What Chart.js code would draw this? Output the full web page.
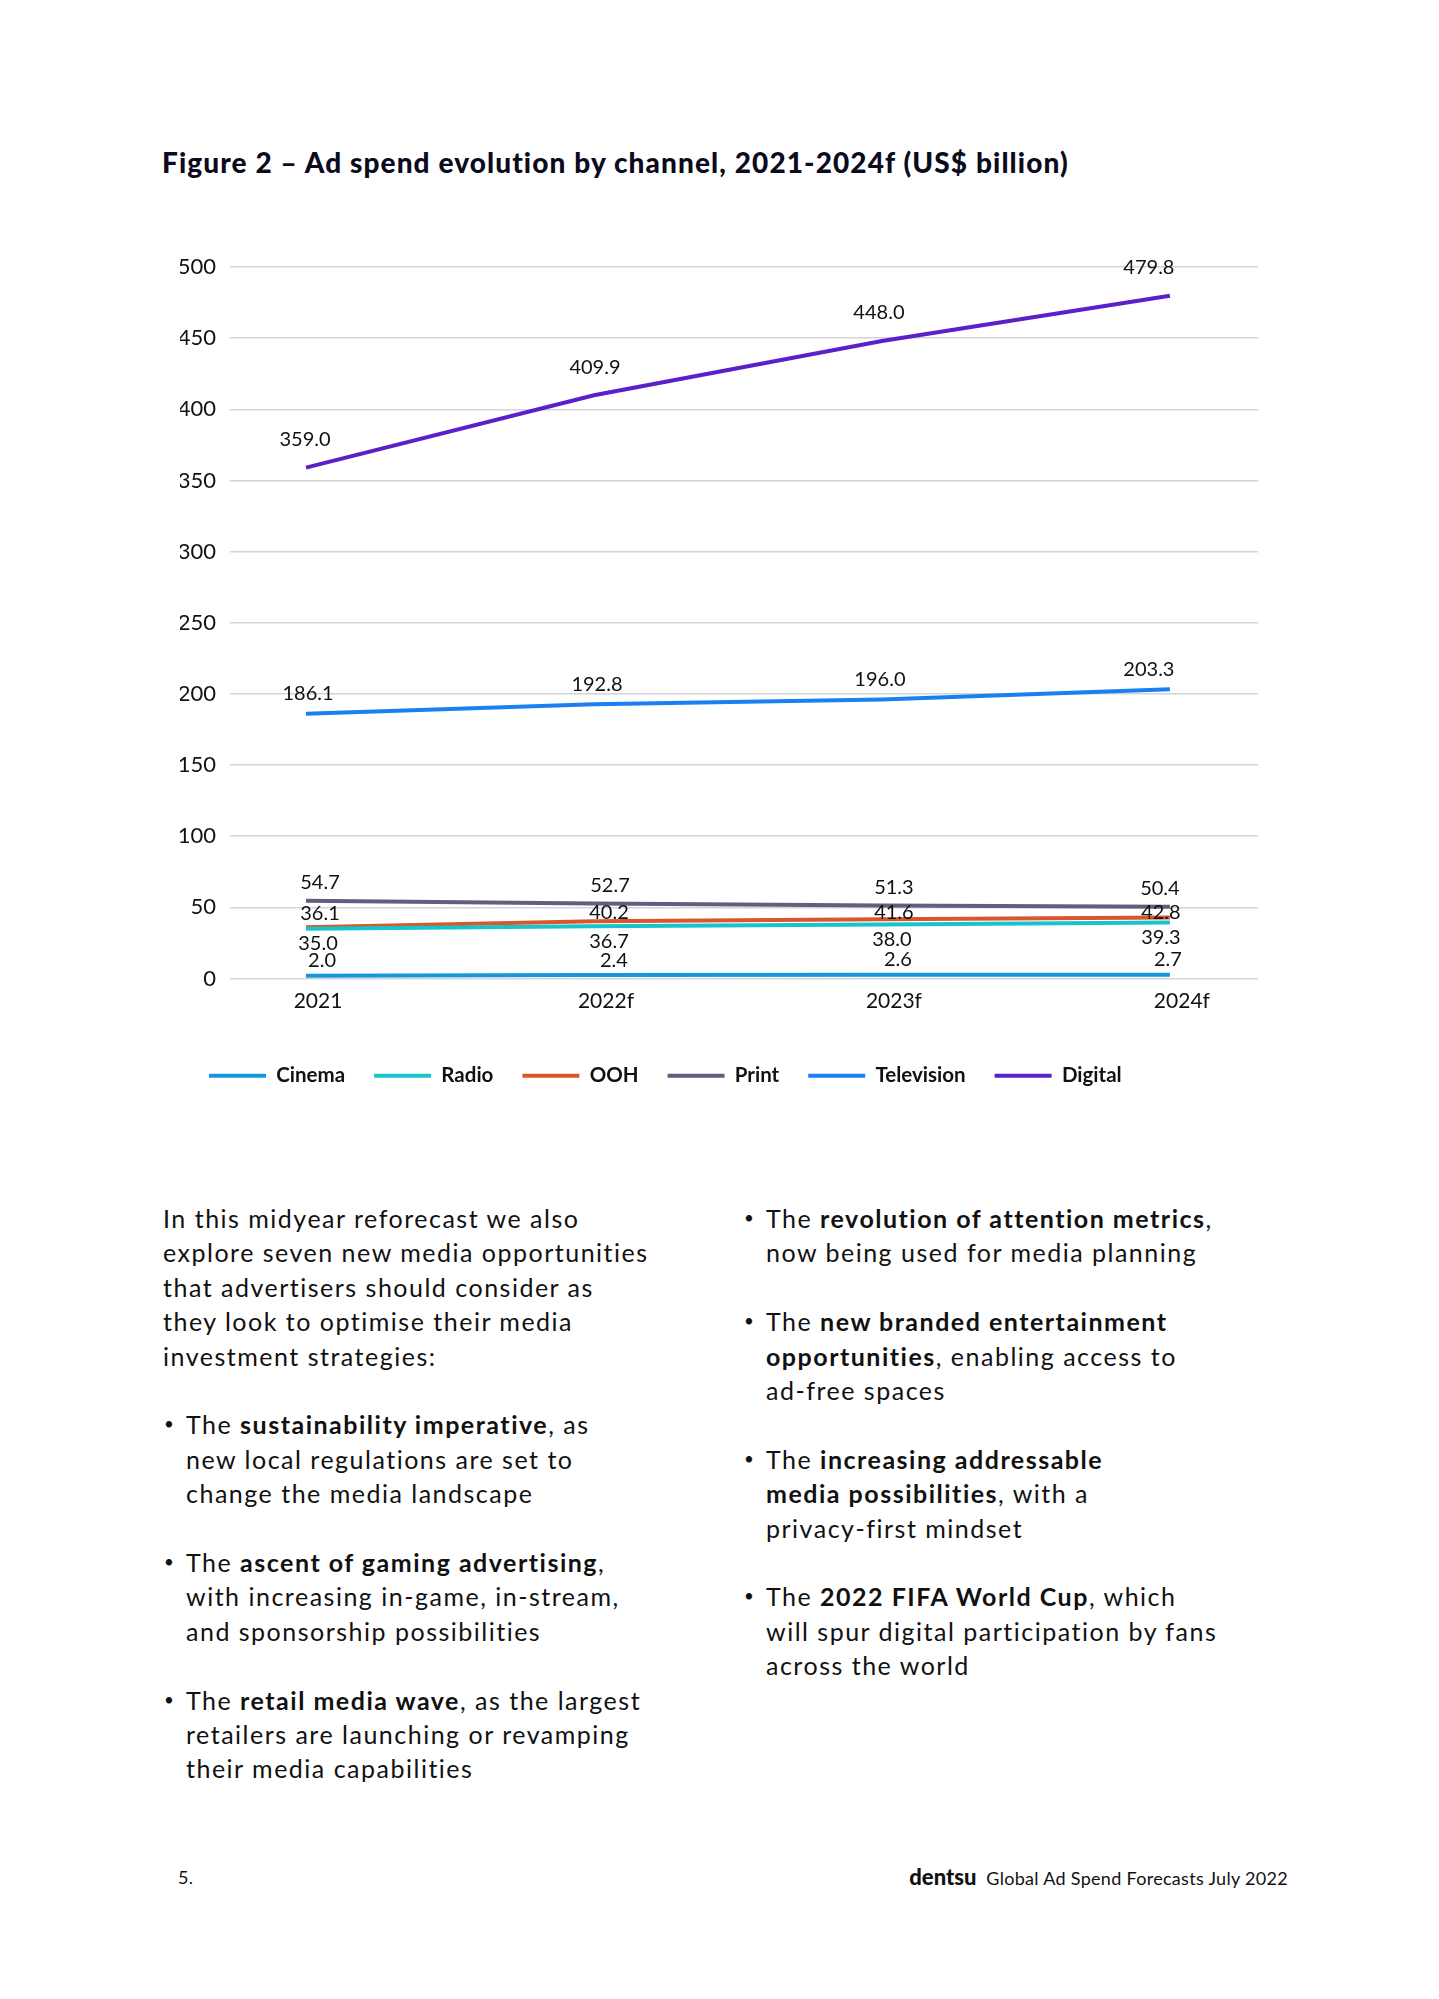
<!DOCTYPE html>
<html>
<head>
<meta charset="utf-8">
<script src="https://cdn.jsdelivr.net/npm/chart.js@4.4.1/dist/chart.umd.min.js"></script>
<style>
    body {
        margin: 0;
        background: #fff;
        width: 1439px;
        height: 1999px;
        position: relative;
        font-family: Lato, "Noto Sans", sans-serif;
        color: #111;
    }
    h1 {
        position: absolute;
        left: 162px;
        top: 146px;
        margin: 0;
        font-size: 28px;
        line-height: 32px;
        font-weight: 900;
        letter-spacing: 1.1px;
        color: #0b0b1e;
        white-space: nowrap;
    }
    #chart-box {
        position: absolute;
        left: 160px;
        top: 230px;
        width: 1120px;
        height: 880px;
    }
    .col {
        position: absolute;
        top: 1201px;
        font-size: 25px;
        line-height: 34.4px;
        letter-spacing: 1.5px;
        white-space: nowrap;
    }
    .col p { margin: 0 0 34.4px 0; }
    .col .item { position: relative; padding-left: 23px; margin-bottom: 34.4px; }
    .col .item::before { content: "•"; position: absolute; left: 1px; top: 0; font-size: 17px; }
    .footer {
        position: absolute;
        top: 1866px;
        font-size: 18px;
        line-height: 22px;
        letter-spacing: 0.3px;
    }
</style>
</head>
<body>

<h1>Figure 2 – Ad spend evolution by channel, 2021-2024f (US$ billion)</h1>

<div id="chart-box"><canvas id="chart1"></canvas></div>

<div class="col" style="left:163px">
    <p>In this midyear reforecast we also<br>explore seven new media opportunities<br>that advertisers should consider as<br>they look to optimise their media<br>investment strategies:</p>
    <div class="item">The <b>sustainability imperative</b>, as<br>new local regulations are set to<br>change the media landscape</div>
    <div class="item">The <b>ascent of gaming advertising</b>,<br>with increasing in-game, in-stream,<br>and sponsorship possibilities</div>
    <div class="item">The <b>retail media wave</b>, as the largest<br>retailers are launching or revamping<br>their media capabilities</div>
</div>

<div class="col" style="left:743px">
    <div class="item">The <b>revolution of attention metrics</b>,<br>now being used for media planning</div>
    <div class="item">The <b>new branded entertainment<br>opportunities</b>, enabling access to<br>ad-free spaces</div>
    <div class="item">The <b>increasing addressable<br>media possibilities</b>, with a<br>privacy-first mindset</div>
    <div class="item">The <b>2022 FIFA World Cup</b>, which<br>will spur digital participation by fans<br>across the world</div>
</div>

<div class="footer" style="left:178px">5.</div>
<div class="footer" style="right:151px"><b style="font-size:22px;font-weight:900;letter-spacing:0">dentsu</b>&nbsp; Global Ad Spend Forecasts July 2022</div>

<script>
// Data (US$ billion)
const categories = ['2021', '2022f', '2023f', '2024f']
const seriesNames = ['Cinema', 'Radio', 'OOH', 'Print', 'Television', 'Digital']
const cinema = [2.0, 2.4, 2.6, 2.7]
const radio = [35.0, 36.7, 38.0, 39.3]
const ooh = [36.1, 40.2, 41.6, 42.8]
const print = [54.7, 52.7, 51.3, 50.4]
const television = [186.1, 192.8, 196.0, 203.3]
const digital = [359.0, 409.9, 448.0, 479.8]
const yTicks = [0, 50, 100, 150, 200, 250, 300, 350, 400, 450, 500]

const seriesValues = [cinema, radio, ooh, print, television, digital]
const seriesColors = ['#1497db', '#17c4cc', '#d9572d', '#625f7e', '#1a7ff2', '#5b20c9']

// where each value label sits next to its point (px)
// "between": put the label halfway between this line and another one
const labelOffsets = {
    'Cinema':     { dy: -15, dx: [16, 20, 16, -2] },
    'Radio':      { dy: 15,  dx: [12, 15, 10, -9] },
    'OOH':        { dy: 0, between: 'Print', dx: [14, 15, 12, -9] },
    'Print':      { dy: -18, dx: [14, 16, 12, -10] },
    'Television': { dy: -20, dx: [2, 3, -2, -21] },
    'Digital':    { dy: -28, dx: [-1, 1, -3, -21] },
}

const valueLabels = {
    id: 'valueLabels',
    afterDatasetsDraw(chart) {
        const ctx = chart.ctx
        ctx.save()
        ctx.font = '20px Lato'
        ctx.fillStyle = '#111'
        ctx.textAlign = 'center'
        ctx.textBaseline = 'middle'
        chart.data.datasets.forEach((ds, di) => {
            const meta = chart.getDatasetMeta(di)
            const off = labelOffsets[ds.label]
            let other = null
            if (off.between) other = chart.getDatasetMeta(seriesNames.indexOf(off.between))
            meta.data.forEach((pt, i) => {
                let y = pt.y + off.dy
                if (other) y = (pt.y + other.data[i].y) / 2
                ctx.fillText(ds.data[i].y.toFixed(1), pt.x + off.dx[i], y)
            })
        })
        ctx.restore()
    }
}

const ctx = document.getElementById('chart1').getContext('2d')

const chart1 = new Chart(ctx, {
    type: 'line',
    data: {
        datasets: seriesNames.map((name, si) => ({
            label: name,
            data: seriesValues[si].map((v, i) => ({ x: i, y: v })),
            borderColor: seriesColors[si],
            backgroundColor: seriesColors[si],
            borderWidth: 4,
            pointRadius: 0,
            tension: 0,
            fill: false,
        }))
    },
    options: {
        responsive: true,
        maintainAspectRatio: false,
        animation: false,
        layout: { padding: { left: 20, right: 22, top: 37, bottom: 14 } },
        plugins: {
            tooltip: { enabled: false },
            legend: {
                position: 'bottom',
                align: 'start',
                labels: {
                    usePointStyle: true,
                    pointStyle: 'line',
                    pointStyleWidth: 57,
                    padding: 29,
                    color: '#111',
                    font: { family: 'Lato', size: 20.5, weight: 'bold' },
                }
            }
        },
        scales: {
            x: {
                type: 'linear',
                min: -0.264,
                max: 3.306,
                afterBuildTicks: (scale) => {
                    scale.ticks = categories.map((c, i) => ({ value: i }))
                },
                afterFit: (scale) => { scale.height = 58 },
                grid: { display: false },
                border: { display: false },
                ticks: {
                    padding: 2,
                    labelOffset: 12,
                    color: '#111',
                    font: { family: 'Lato', size: 21 },
                    callback: (v) => categories[v],
                }
            },
            y: {
                min: 0,
                max: 500,
                afterBuildTicks: (scale) => {
                    scale.ticks = yTicks.map((v) => ({ value: v }))
                },
                afterFit: (scale) => { scale.width = 50 },
                border: { display: false },
                grid: { color: '#d3d3da', lineWidth: 1.5, drawTicks: false },
                ticks: {
                    padding: 14,
                    color: '#111',
                    font: { family: 'Lato', size: 22 },
                }
            }
        }
    },
    plugins: [valueLabels]
})
</script>
</body>
</html>
